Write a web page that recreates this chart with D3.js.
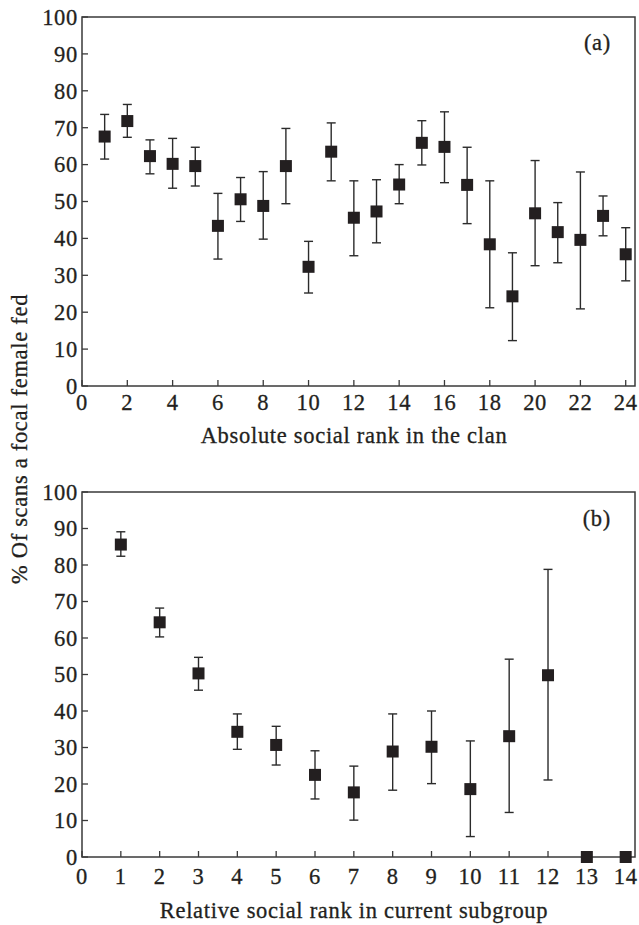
<!DOCTYPE html>
<html>
<head>
<meta charset="utf-8">
<script src="https://cdn.jsdelivr.net/npm/d3@7"></script>
<style>
  html, body { margin: 0; padding: 0; background: #fff; }
  svg text { font-family: "Liberation Serif", "Times New Roman", serif; fill: #231f20;
             stroke: #231f20; stroke-width: 0.3px; letter-spacing: 0.7px; }
</style>
</head>
<body>
<svg id="chart" width="639" height="925"></svg>
<script>
// Panel (a): absolute social rank in the clan
const rankA  = [1,2,3,4,5,6,7,8,9,10,11,12,13,14,15,16,17,18,19,20,21,22,23,24];
const meanA  = [67.6,71.8,62.3,60.2,59.6,43.4,50.6,48.8,59.6,32.3,63.5,45.6,47.3,54.6,65.9,64.8,54.5,38.4,24.3,46.8,41.7,39.6,46.1,35.7];
const upperA = [73.6,76.3,66.7,67.1,64.7,52.2,56.5,58.1,69.8,39.2,71.3,55.6,55.9,60.0,71.9,74.3,64.7,55.6,36.1,61.1,49.7,58.0,51.5,42.9];
const lowerA = [61.5,67.4,57.5,53.6,54.2,34.4,44.6,39.8,49.4,25.2,55.6,35.3,38.8,49.4,59.9,55.1,44.0,21.2,12.3,32.6,33.4,20.9,40.7,28.5];
const xTicksA = [0,2,4,6,8,10,12,14,16,18,20,22,24];

// Panel (b): relative social rank in current subgroup
const rankB  = [1,2,3,4,5,6,7,8,9,10,11,12,13,14];
const meanB  = [85.6,64.3,50.3,34.3,30.7,22.5,17.7,28.9,30.2,18.6,33.1,49.8,0,0];
const upperB = [89.1,68.2,54.7,39.2,35.8,29.1,24.9,39.2,40.0,31.8,54.2,78.8,null,null];
const lowerB = [82.4,60.3,45.7,29.5,25.2,15.9,10.1,18.3,20.1,5.6,12.2,21.1,null,null];
const xTicksB = [0,1,2,3,4,5,6,7,8,9,10,11,12,13,14];

const yTicks = [0,10,20,30,40,50,60,70,80,90,100];

const svg = d3.select("#chart");
const ink = "#231f20";
const frame = "#3a3a3a";
const fs = 22.5;

function panel(cfg) {
  const x = d3.scaleLinear().domain([0, cfg.xMax]).range([cfg.left, cfg.right]);
  const y = d3.scaleLinear().domain([0, 100]).range([cfg.bottom, cfg.top]);
  const g = svg.append("g");

  // inward ticks on the left and bottom axes
  g.selectAll(".yt").data(yTicks).join("line")
    .attr("x1", cfg.left).attr("x2", cfg.left + 6)
    .attr("y1", d => y(d)).attr("y2", d => y(d))
    .attr("stroke", frame).attr("stroke-width", 1.3);
  g.selectAll(".xt").data(cfg.xTicks).join("line")
    .attr("x1", d => x(d)).attr("x2", d => x(d))
    .attr("y1", cfg.bottom).attr("y2", cfg.bottom - 6)
    .attr("stroke", frame).attr("stroke-width", 1.3);

  // tick labels
  g.selectAll(".yl").data(yTicks).join("text")
    .attr("x", cfg.left - 4).attr("y", d => y(d)).attr("dy", "0.35em")
    .attr("text-anchor", "end").attr("font-size", fs)
    .text(d => d);
  g.selectAll(".xl").data(cfg.xTicks).join("text")
    .attr("x", d => x(d)).attr("y", cfg.bottom + cfg.xLabelOff)
    .attr("text-anchor", "middle").attr("font-size", fs)
    .text(d => d);

  // frame
  g.append("rect")
    .attr("x", cfg.left).attr("y", cfg.top)
    .attr("width", cfg.right - cfg.left).attr("height", cfg.bottom - cfg.top)
    .attr("fill", "none").attr("stroke", frame).attr("stroke-width", 1.5);

  // axis title
  g.append("text")
    .attr("x", 354).attr("y", cfg.bottom + cfg.titleOff)
    .attr("text-anchor", "middle").attr("font-size", fs)
    .text(cfg.title);

  // panel letter
  g.append("text")
    .attr("x", 611).attr("y", cfg.letterY)
    .attr("text-anchor", "end").attr("font-size", fs)
    .text(cfg.letter);

  const pts = cfg.rank.map((r, i) => ({ r, m: cfg.mean[i], hi: cfg.upper[i], lo: cfg.lower[i] }));
  const bars = pts.filter(d => d.hi != null);

  // error bars with caps
  const eb = g.append("g").attr("stroke", "#2b2b2b").attr("stroke-width", 1.4);
  eb.selectAll(".v").data(bars).join("line")
    .attr("x1", d => x(d.r)).attr("x2", d => x(d.r))
    .attr("y1", d => y(d.hi)).attr("y2", d => y(d.lo));
  eb.selectAll(".ch").data(bars).join("line")
    .attr("x1", d => x(d.r) - 4.5).attr("x2", d => x(d.r) + 4.5)
    .attr("y1", d => y(d.hi)).attr("y2", d => y(d.hi));
  eb.selectAll(".cl").data(bars).join("line")
    .attr("x1", d => x(d.r) - 4.5).attr("x2", d => x(d.r) + 4.5)
    .attr("y1", d => y(d.lo)).attr("y2", d => y(d.lo));

  // square markers
  g.selectAll(".pt").data(pts).join("rect")
    .attr("x", d => x(d.r) - 6).attr("y", d => y(d.m) - 6)
    .attr("width", 12).attr("height", 12)
    .attr("fill", ink);
}

panel({ left: 82, right: 635, top: 17, bottom: 386, xMax: 24.41,
        xTicks: xTicksA, rank: rankA, mean: meanA, upper: upperA, lower: lowerA,
        xLabelOff: 24, titleOff: 57, letter: "(a)", letterY: 50,
        title: "Absolute social rank in the clan" });

panel({ left: 82, right: 635, top: 492, bottom: 857, xMax: 14.24,
        xTicks: xTicksB, rank: rankB, mean: meanB, upper: upperB, lower: lowerB,
        xLabelOff: 26.5, titleOff: 61, letter: "(b)", letterY: 526,
        title: "Relative social rank in current subgroup" });

// shared y-axis title
svg.append("text")
  .attr("transform", "translate(27,439) rotate(-90)")
  .attr("text-anchor", "middle").attr("font-size", fs)
  .text("% Of scans a focal female fed");
</script>
</body>
</html>
